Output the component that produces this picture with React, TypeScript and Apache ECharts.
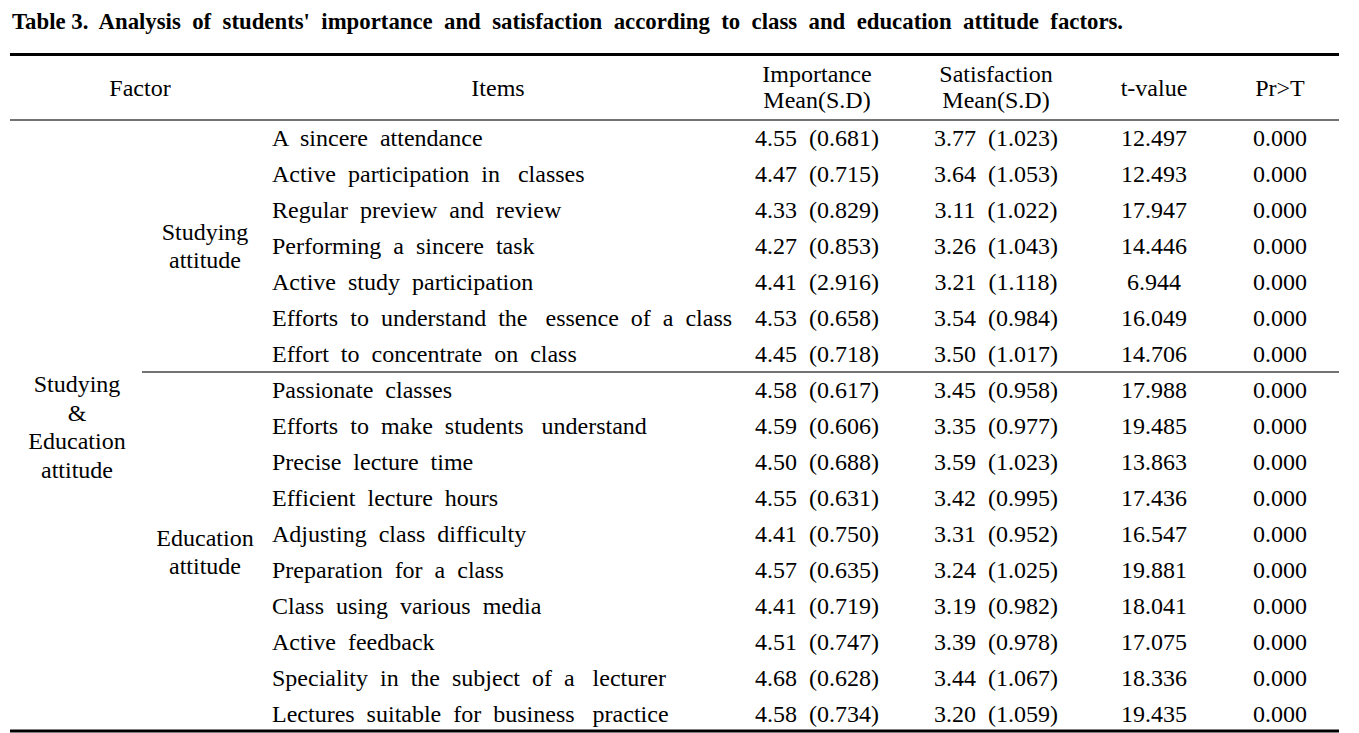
import React, { useEffect, useRef } from "react";
import * as echarts from "echarts";

const title =
  "Table 3.  Analysis  of  students'  importance  and  satisfaction  according  to  class  and  education  attitude  factors.";

const headerFactor = "Factor";
const headerItems = "Items";
const headerImportance = "Importance\nMean(S.D)";
const headerSatisfaction = "Satisfaction\nMean(S.D)";
const headerT = "t-value";
const headerP = "Pr>T";

const items = [
  "A  sincere  attendance",
  "Active  participation  in   classes",
  "Regular  preview  and  review",
  "Performing  a  sincere  task",
  "Active  study  participation",
  "Efforts  to  understand  the   essence  of  a  class",
  "Effort  to  concentrate  on  class",
  "Passionate  classes",
  "Efforts  to  make  students   understand",
  "Precise  lecture  time",
  "Efficient  lecture  hours",
  "Adjusting  class  difficulty",
  "Preparation  for  a  class",
  "Class  using  various  media",
  "Active  feedback",
  "Speciality  in  the  subject  of  a   lecturer",
  "Lectures  suitable  for  business   practice",
];

const importanceMean = [4.55, 4.47, 4.33, 4.27, 4.41, 4.53, 4.45, 4.58, 4.59, 4.5, 4.55, 4.41, 4.57, 4.41, 4.51, 4.68, 4.58];
const importanceSD = [0.681, 0.715, 0.829, 0.853, 2.916, 0.658, 0.718, 0.617, 0.606, 0.688, 0.631, 0.75, 0.635, 0.719, 0.747, 0.628, 0.734];
const satisfactionMean = [3.77, 3.64, 3.11, 3.26, 3.21, 3.54, 3.5, 3.45, 3.35, 3.59, 3.42, 3.31, 3.24, 3.19, 3.39, 3.44, 3.2];
const satisfactionSD = [1.023, 1.053, 1.022, 1.043, 1.118, 0.984, 1.017, 0.958, 0.977, 1.023, 0.995, 0.952, 1.025, 0.982, 0.978, 1.067, 1.059];
const tValues = [12.497, 12.493, 17.947, 14.446, 6.944, 16.049, 14.706, 17.988, 19.485, 13.863, 17.436, 16.547, 19.881, 18.041, 17.075, 18.336, 19.435];
const prT = [0, 0, 0, 0, 0, 0, 0, 0, 0, 0, 0, 0, 0, 0, 0, 0, 0];

const mainFactor = "Studying\n&\nEducation\nattitude";
const subFactorLabels = ["Studying\nattitude", "Education\nattitude"];
const subFactorStarts = [0, 7];
const subFactorEnds = [6, 16];

// layout
const W = 1359;
const H = 733;
const FONT = "'Liberation Serif', 'Times New Roman', serif";
const FS = 24;
const LEFT = 10;
const RIGHT = 1339;
const ROW0 = 138;
const ROWH = 36;
const COL_FACTOR = 77;
const COL_SUB = 205;
const COL_ITEM = 272;
const COL_IMP = 817;
const COL_SAT = 996;
const COL_T = 1154;
const COL_P = 1280;
const TITLE_X = 12;
const TITLE_W = 1113;

function titleFontSize() {
  try {
    const c = document.createElement("canvas");
    const ctx = c.getContext("2d");
    if (!ctx) return 22;
    ctx.font = "bold 20px " + FONT;
    const w = ctx.measureText(title).width;
    if (!w) return 22;
    return Math.min(24, Math.max(18, (20 * TITLE_W) / w));
  } catch (e) {
    return 22;
  }
}

function txt(text: string, x: number, y: number, align: string, extra: any = {}) {
  return {
    type: "text",
    x,
    y,
    silent: true,
    style: {
      text,
      fill: "#000",
      fontFamily: FONT,
      fontSize: FS,
      align,
      verticalAlign: "middle",
      ...extra,
    },
  };
}

function hline(x1: number, x2: number, y: number, w: number, color: string) {
  return {
    type: "line",
    silent: true,
    shape: { x1, y1: y, x2, y2: y },
    style: { stroke: color, lineWidth: w },
  };
}

function buildGraphic() {
  const g: any[] = [];
  g.push(txt(title, TITLE_X, 21, "left", { fontWeight: "bold", fontSize: titleFontSize() }));
  g.push(hline(LEFT, RIGHT, 54.5, 3, "#000"));
  g.push(txt(headerFactor, 140, 88, "center"));
  g.push(txt(headerItems, 498, 88, "center"));
  g.push(txt(headerImportance, COL_IMP, 87, "center", { lineHeight: 26 }));
  g.push(txt(headerSatisfaction, COL_SAT, 87, "center", { lineHeight: 26 }));
  g.push(txt(headerT, COL_T, 88, "center"));
  g.push(txt(headerP, COL_P, 88, "center"));
  g.push(hline(LEFT, RIGHT, 120, 1.6, "#444"));

  const yOf = (i: number) => ROW0 + i * ROWH;
  items.forEach((it, i) => {
    const y = yOf(i);
    g.push(txt(it, COL_ITEM, y, "left"));
    g.push(txt(importanceMean[i].toFixed(2) + "  (" + importanceSD[i].toFixed(3) + ")", COL_IMP, y, "center"));
    g.push(txt(satisfactionMean[i].toFixed(2) + "  (" + satisfactionSD[i].toFixed(3) + ")", COL_SAT, y, "center"));
    g.push(txt(tValues[i].toFixed(3), COL_T, y, "center"));
    g.push(txt(prT[i].toFixed(3), COL_P, y, "center"));
  });

  subFactorLabels.forEach((lab, k) => {
    const yc = (yOf(subFactorStarts[k]) + yOf(subFactorEnds[k])) / 2;
    g.push(txt(lab, COL_SUB, yc, "center", { lineHeight: 28.5 }));
  });
  const ycMain = (yOf(0) + yOf(items.length - 1)) / 2;
  g.push(txt(mainFactor, COL_FACTOR, ycMain + 1, "center", { lineHeight: 28.7 }));

  const sepY = (yOf(subFactorEnds[0]) + yOf(subFactorStarts[1])) / 2;
  g.push(hline(142, RIGHT, sepY, 1.6, "#444"));
  g.push(hline(LEFT, RIGHT, 731, 3, "#000"));
  return g;
}

export default function App() {
  const ref = useRef<HTMLDivElement>(null);
  useEffect(() => {
    document.body.style.margin = "0";
    if (!ref.current) return;
    const chart = echarts.init(ref.current, undefined, { renderer: "svg" });
    chart.setOption({
      animation: false,
      backgroundColor: "#fff",
      graphic: buildGraphic(),
    });
    return () => chart.dispose();
  }, []);
  return <div ref={ref} style={{ width: W, height: H, position: "absolute", left: 0, top: 0 }} />;
}
